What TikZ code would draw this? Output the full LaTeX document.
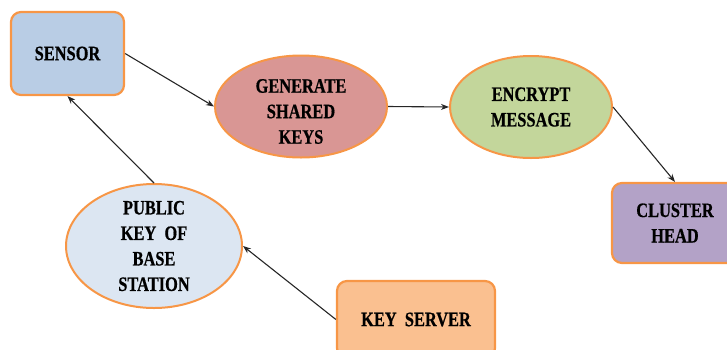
\documentclass[tikz,border=0pt]{standalone}
\usepackage{fontspec}
\usetikzlibrary{shapes.geometric,arrows.meta}
\newfontfamily\lblfont[FakeStretch=0.8,FakeBold=0.6]{Liberation Serif}
\definecolor{edgeorange}{HTML}{F79646}
\definecolor{sensorfill}{HTML}{B9CDE5}
\definecolor{genfill}{HTML}{D99694}
\definecolor{encfill}{HTML}{C3D69B}
\definecolor{clusterfill}{HTML}{B3A2C7}
\definecolor{pubfill}{HTML}{DCE6F2}
\definecolor{serverfill}{HTML}{FAC090}
\tikzset{
  box/.style={draw=edgeorange, line width=2.2pt, rounded corners=10pt, inner sep=0pt},
  oval/.style={ellipse, draw=edgeorange, line width=2pt, inner sep=0pt},
  lbl/.style={align=center, inner sep=0pt, text=black,
    font={\lblfont\bfseries\fontsize{20.5}{25.5}\selectfont}},
  link/.style={draw=black!85, line width=1.1pt, -{Stealth[length=8pt,width=6pt]}}
}
\begin{document}
\begin{tikzpicture}[x=1pt, y=-1pt]
  \useasboundingbox (0,0) rectangle (727,349);
  % process shapes
  \node[box, fill=sensorfill, minimum width=113pt, minimum height=83pt] (sensor) at (67.5,53.5) {};
  \node[oval, fill=genfill, minimum width=172pt, minimum height=102pt] (gen) at (301,106.5) {};
  \node[oval, fill=encfill, minimum width=162pt, minimum height=102pt] (enc) at (531,107) {};
  \node[box, fill=clusterfill, minimum width=126pt, minimum height=80pt] (cluster) at (675,223) {};
  \node[oval, fill=pubfill, minimum width=176pt, minimum height=124pt] (pub) at (154,246) {};
  \node[box, fill=serverfill, minimum width=158pt, minimum height=77pt] (server) at (416,319.5) {};
  % captions
  \node[lbl] (sensortxt) at (sensor.center) {SENSOR};
  \node[lbl] (gentxt) at ([yshift=-5pt]gen.center) {GENERATE\\SHARED\\KEYS};
  \node[lbl] (enctxt) at (enc.center) {ENCRYPT\\MESSAGE};
  \node[lbl] (clustertxt) at (cluster.center) {CLUSTER\\HEAD};
  \node[lbl] (pubtxt) at (pub.center) {PUBLIC\\KEY\ \ OF\\BASE\\STATION};
  \node[lbl] (servertxt) at (server.center) {KEY\ \ SERVER};
  % connectors
  \draw[link] (sensor.east) -- (gen.west);
  \draw[link] (gen.east) -- (enc.west);
  \draw[link] (enc.east) -- (cluster.north);
  \draw[link] (pub.north) -- (sensor.south);
  \draw[link] (server.west) -- (pub.east);
\end{tikzpicture}
\end{document}
